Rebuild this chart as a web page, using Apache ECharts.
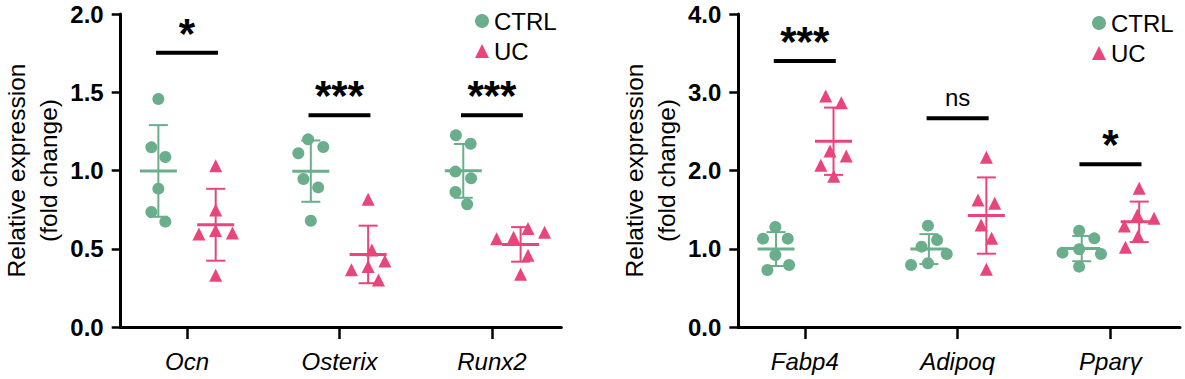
<!DOCTYPE html>
<html><head><meta charset="utf-8">
<script src="https://cdn.jsdelivr.net/npm/echarts@6/dist/echarts.min.js"></script>
<style>html,body{margin:0;padding:0;background:#fff}#c{width:1185px;height:379px}</style>
</head><body><div id="c"></div>
<script>
// ---------------- data ----------------
const categoriesA = ['Ocn', 'Osterix', 'Runx2'];
const categoriesB = ['Fabp4', 'Adipoq', 'Pparγ'];
const groupNames = ['CTRL', 'UC'];

const ctrlA = [
  [1.457, 1.148, 1.086, 0.884, 0.735, 0.673],
  [1.199, 1.150, 1.110, 0.946, 0.892, 0.679],
  [1.225, 1.171, 0.993, 0.950, 0.863, 0.784]
];
const ucA = [
  [1.031, 0.748, 0.616, 0.601, 0.594, 0.330],
  [0.816, 0.492, 0.422, 0.386, 0.366, 0.300],
  [0.630, 0.605, 0.573, 0.564, 0.458, 0.337]
];
const ctrlB = [
  [1.278, 1.129, 1.129, 0.920, 0.792, 0.728],
  [1.295, 1.112, 1.027, 0.933, 0.814, 0.792],
  [1.231, 1.133, 0.993, 0.950, 0.933, 0.771]
];
const ucB = [
  [2.952, 2.867, 2.249, 2.185, 2.066, 1.925],
  [2.168, 1.623, 1.580, 1.304, 1.133, 0.737],
  [1.772, 1.431, 1.389, 1.291, 1.163, 1.018]
];
const sigTextA = ['*', '***', '***'];
const sigLevelA = [1.753, 1.353, 1.353];
const sigTextB = ['***', 'ns', '*'];
const sigLevelB = [3.399, 2.667, 2.079];

const yTicksA = ['0.0', '0.5', '1.0', '1.5', '2.0'];
const yTicksB = ['0.0', '1.0', '2.0', '3.0', '4.0'];
const yTitle = 'Relative expression\n(fold change)';

// ---------------- layout / style ----------------
const FONT = '"Liberation Sans", Arial, Helvetica, sans-serif';
const FS = 24;
const GREEN = '#6aae8c';
const PINK = '#e8457b';
const X_MIN = 0.565, X_MAX = 3.455;
const GROUP_OFF = 0.188;
const SIG_HALF = 0.203;
const TOP = 14, H = 313;
const SWARM_D = 17;

const panels = [
  { left: 120.7, width: 440.6, cats: categoriesA, ctrl: ctrlA, uc: ucA, sigText: sigTextA, sigLevel: sigLevelA, ticks: yTicksA, legendLeft: 475, legendTop: 9 },
  { left: 738.3, width: 441.7, cats: categoriesB, ctrl: ctrlB, uc: ucB, sigText: sigTextB, sigLevel: sigLevelB, ticks: yTicksB, legendLeft: 1092, legendTop: 11 }
];

function mean(a) { return a.reduce((s, v) => s + v, 0) / a.length; }
function sd(a) { const m = mean(a); return Math.sqrt(a.reduce((s, v) => s + (v - m) * (v - m), 0) / (a.length - 1)); }

// beeswarm offsets in pixels, centred per cluster
function swarm(vals, pxY) {
  const n = vals.length;
  const order = vals.map((v, i) => i).sort((a, b) => vals[b] - vals[a]);
  const xs = new Array(n).fill(0);
  const placed = [];
  for (const i of order) {
    const y = vals[i] * pxY;
    const forb = [];
    for (const j of placed) {
      const dy = Math.abs(vals[j] * pxY - y);
      if (dy < SWARM_D) { const w = Math.sqrt(SWARM_D * SWARM_D - dy * dy); forb.push([xs[j] - w, xs[j] + w]); }
    }
    const cands = [0];
    forb.forEach(f => cands.push(f[0], f[1]));
    const ok = cands.filter(c => forb.every(f => c <= f[0] + 1e-9 || c >= f[1] - 1e-9));
    ok.sort((a, b) => (Math.abs(a) - Math.abs(b)) || (b - a));
    xs[i] = ok[0];
    placed.push(i);
  }
  const parent = vals.map((v, i) => i);
  const find = i => parent[i] === i ? i : (parent[i] = find(parent[i]));
  for (let i = 0; i < n; i++) for (let j = i + 1; j < n; j++)
    if (Math.abs(vals[i] - vals[j]) * pxY < SWARM_D) parent[find(i)] = find(j);
  const groups = {};
  for (let i = 0; i < n; i++) { const r = find(i); (groups[r] = groups[r] || []).push(i); }
  Object.values(groups).forEach(g => {
    const mn = Math.min(...g.map(i => xs[i])), mx = Math.max(...g.map(i => xs[i]));
    const sh = (mn + mx) / 2;
    g.forEach(i => { xs[i] -= sh; });
  });
  return xs;
}

const grid = [], xAxis = [], yAxis = [], series = [], legend = [];

panels.forEach((p, pi) => {
  const yMin = parseFloat(p.ticks[0]);
  const yMax = parseFloat(p.ticks[p.ticks.length - 1]);
  const yInt = parseFloat(p.ticks[1]) - parseFloat(p.ticks[0]);
  const pxX = p.width / (X_MAX - X_MIN);
  const pxY = H / (yMax - yMin);

  grid.push({ left: p.left, top: TOP, width: p.width, height: H, containLabel: false, outerBoundsMode: 'none' });
  xAxis.push({
    type: 'value', gridIndex: pi, min: X_MIN, max: X_MAX,
    splitLine: { show: false },
    axisLine: { show: true, onZero: false, lineStyle: { color: '#000', width: 3 } },
    axisTick: { show: true, customValues: [1, 2, 3], length: 12, lineStyle: { color: '#000', width: 2.5 } },
    axisLabel: {
      show: true, customValues: [1, 2, 3], margin: 22,
      formatter: v => p.cats[Math.round(v) - 1] || '',
      fontFamily: FONT, fontSize: FS, fontStyle: 'italic', color: '#000'
    }
  });
  yAxis.push({
    type: 'value', gridIndex: pi, min: yMin, max: yMax, interval: yInt,
    splitLine: { show: false },
    axisLine: { show: true, lineStyle: { color: '#000', width: 3 } },
    axisTick: { show: true, length: 9, lineStyle: { color: '#000', width: 2.5 } },
    axisLabel: { margin: 17, formatter: v => v.toFixed(1), fontFamily: FONT, fontSize: FS, fontWeight: 'bold', color: '#000' },
    name: yTitle, nameLocation: 'middle', nameRotate: 90, nameGap: 56,
    nameTextStyle: { fontFamily: FONT, fontSize: 24.5, lineHeight: 32, color: '#000' }
  });

  [p.ctrl, p.uc].forEach((grp, gi) => {
    const color = gi === 0 ? GREEN : PINK;
    const sign = gi === 0 ? -1 : 1;
    const pts = [];
    const bars = [];
    grp.forEach((vals, k) => {
      const cx = k + 1 + sign * GROUP_OFF;
      const off = swarm(vals, pxY);
      vals.forEach((v, i) => pts.push([cx + off[i] / pxX, v]));
      bars.push([cx, mean(vals), sd(vals)]);
    });
    series.push({
      name: groupNames[gi], type: 'scatter', xAxisIndex: pi, yAxisIndex: pi,
      symbol: gi === 0 ? 'circle' : 'triangle', symbolSize: gi === 0 ? 12 : 13,
      itemStyle: { color: color, opacity: 1 }, data: pts, z: 3, silent: true
    });
    series.push({
      name: groupNames[gi] + ' mean±SD', type: 'custom', xAxisIndex: pi, yAxisIndex: pi,
      encode: { x: 0, y: 1 }, data: bars, z: 4, silent: true,
      itemStyle: { color: color },
      renderItem: (params, api) => {
        const x = api.value(0), m = api.value(1), s = api.value(2);
        const c = api.coord([x, m]), t = api.coord([x, m + s]), b = api.coord([x, m - s]);
        const col = color;
        return {
          type: 'group', children: [
            { type: 'line', shape: { x1: c[0], y1: t[1], x2: c[0], y2: b[1] }, style: { stroke: col, lineWidth: 2 } },
            { type: 'line', shape: { x1: c[0] - 9.5, y1: t[1], x2: c[0] + 9.5, y2: t[1] }, style: { stroke: col, lineWidth: 2 } },
            { type: 'line', shape: { x1: c[0] - 9.5, y1: b[1], x2: c[0] + 9.5, y2: b[1] }, style: { stroke: col, lineWidth: 2 } },
            { type: 'line', shape: { x1: c[0] - 18.5, y1: c[1], x2: c[0] + 18.5, y2: c[1] }, style: { stroke: col, lineWidth: 3 } }
          ]
        };
      }
    });
  });

  series.push({
    name: 'significance', type: 'custom', xAxisIndex: pi, yAxisIndex: pi,
    encode: { x: 0, y: 1 }, z: 5, silent: true,
    data: p.sigLevel.map((lv, k) => [k + 1, lv, k]),
    renderItem: (params, api) => {
      const x = api.value(0), lv = api.value(1), k = api.value(2);
      const a = api.coord([x - SIG_HALF, lv]), b = api.coord([x + SIG_HALF, lv]);
      const txt = p.sigText[k];
      const isStar = txt.indexOf('*') >= 0;
      return {
        type: 'group', children: [
          { type: 'line', shape: { x1: a[0], y1: a[1], x2: b[0], y2: b[1] }, style: { stroke: '#000', lineWidth: 4 } },
          { type: 'text', style: {
              text: txt, x: (a[0] + b[0]) / 2, y: a[1] - (isStar ? -1.5 : 9),
              textAlign: 'center', textVerticalAlign: 'bottom',
              fontFamily: FONT, fontSize: isStar ? 42 : FS, fontWeight: isStar ? 'bold' : 'normal', fill: '#000'
          } }
        ]
      };
    }
  });

  legend.push({
    orient: 'vertical', left: p.legendLeft, top: p.legendTop, padding: 0,
    itemWidth: 14, itemHeight: 14, itemGap: 6, itemTextGap: 7, selectedMode: false,
    textStyle: { fontFamily: FONT, fontSize: FS, color: '#000' },
    data: [{ name: 'CTRL', icon: 'circle' }, { name: 'UC', icon: 'triangle' }]
  });
});

const chart = echarts.init(document.getElementById('c'), null, { renderer: 'svg' });
chart.setOption({ animation: false, backgroundColor: '#fff', grid, xAxis, yAxis, series, legend });
</script>
</body></html>
